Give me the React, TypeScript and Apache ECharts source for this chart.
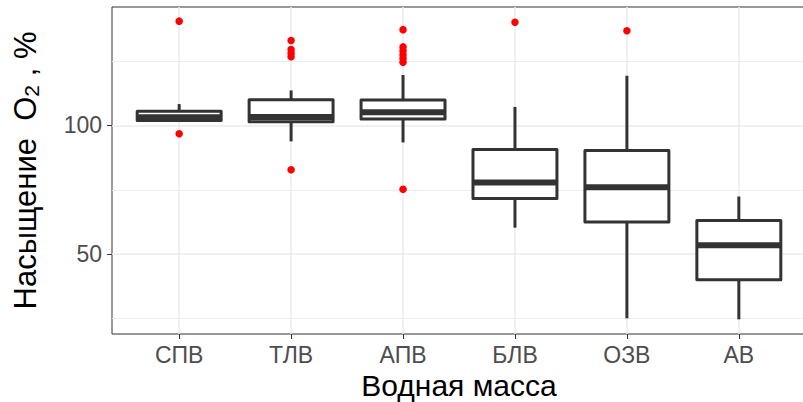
import React, { useEffect, useRef } from "react";
import * as echarts from "echarts";

const categories = ["СПВ", "ТЛВ", "АПВ", "БЛВ", "ОЗВ", "АВ"];
const lowWhisker = [101.9, 93.8, 93.4, 60.3, 25.1, 24.7];
const q1 = [101.9, 101.4, 102.5, 71.6, 62.5, 40.1];
const median = [103.2, 103.3, 105.1, 77.8, 76.0, 53.5];
const q3 = [105.5, 110.0, 109.9, 90.7, 90.3, 63.1];
const highWhisker = [108.3, 113.6, 119.6, 107.2, 119.3, 72.4];

// outliers: [category index (1-based), value]
const outliers: [number, number][] = [
  [1, 140.5], [1, 96.8],
  [2, 133.0], [2, 129.5], [2, 128.0], [2, 126.7], [2, 82.8],
  [3, 137.2], [3, 130.5], [3, 129.0], [3, 127.5], [3, 126.0], [3, 124.5], [3, 75.2],
  [4, 140.1],
  [5, 136.8],
];

const yMajor = [50, 100];
const yMinor = [25, 75, 125];

const FONT = "'Liberation Sans', Arial, sans-serif";

export default function App() {
  const ref = useRef<HTMLDivElement>(null);
  useEffect(() => {
    document.body.style.margin = "0";
    const chart = echarts.init(ref.current!, undefined, { renderer: "svg" });
    const xs = categories.map((_, i) => i + 1);
    const boxData = categories.map((_, i) => [
      i + 1, lowWhisker[i], q1[i], median[i], q3[i], highWhisker[i],
    ]);
    const gridMarks: any[] = [];
    yMinor.forEach((v) =>
      gridMarks.push({ yAxis: v, lineStyle: { color: "#EBEBEB", width: 0.9, type: "solid" } })
    );
    yMajor.forEach((v) =>
      gridMarks.push({ yAxis: v, lineStyle: { color: "#EBEBEB", width: 1.5, type: "solid" } })
    );
    xs.forEach((v) =>
      gridMarks.push({ xAxis: v, lineStyle: { color: "#EBEBEB", width: 1.5, type: "solid" } })
    );
    const stroke = "#333333";
    const LW = 3;
    chart.setOption({
      animation: false,
      backgroundColor: "#ffffff",
      grid: {
        left: 112,
        top: 7,
        width: 694,
        height: 327,
        show: true,
        borderColor: "#333333",
        borderWidth: 1,
        backgroundColor: "transparent",
        outerBoundsMode: "none",
        containLabel: false,
      },
      xAxis: {
        type: "value",
        min: 0.4,
        max: 6.6,
        name: "Водная масса",
        nameLocation: "middle",
        nameGap: 35,
        nameTextStyle: { color: "#000", fontSize: 30, fontFamily: FONT },
        axisLine: { show: false },
        axisTick: { show: true, length: 5, customValues: xs, lineStyle: { color: stroke, width: 1 } },
        axisLabel: {
          customValues: xs,
          formatter: (v: number) => categories[Math.round(v) - 1] ?? "",
          color: "#4D4D4D",
          fontSize: 23,
          fontFamily: FONT,
          margin: 9,
        },
        splitLine: { show: false },
      },
      yAxis: {
        type: "value",
        min: 19,
        max: 146,
        name: "Насыщение  O{sub|2} , %",
        nameLocation: "middle",
        nameGap: 70,
        nameTextStyle: {
          color: "#000",
          fontSize: 31,
          fontFamily: FONT,
          rich: {
            sub: { fontSize: 21, fontFamily: FONT, color: "#000", verticalAlign: "bottom", padding: [12, 0, 0, 0] },
          },
        },
        axisLine: { show: false },
        axisTick: { show: true, length: 5, customValues: yMajor, lineStyle: { color: stroke, width: 1 } },
        axisLabel: {
          customValues: yMajor,
          color: "#4D4D4D",
          fontSize: 23,
          fontFamily: FONT,
          margin: 10,
        },
        splitLine: { show: false },
      },
      series: [
        {
          type: "line",
          data: [],
          silent: true,
          z: 1,
          markLine: {
            silent: true,
            z: 1,
            symbol: ["none", "none"],
            label: { show: false },
            animation: false,
            data: gridMarks,
          },
        },
        {
          type: "custom",
          data: boxData,
          encode: { x: 0, y: [1, 2, 3, 4, 5] },
          z: 10,
          renderItem: (params: any, api: any) => {
            const x = api.value(0);
            const lo = api.coord([x, api.value(1)]);
            const a = api.coord([x, api.value(2)]);
            const md = api.coord([x, api.value(3)]);
            const b = api.coord([x, api.value(4)]);
            const hi = api.coord([x, api.value(5)]);
            const hw = api.size([0.75, 0])[0] / 2;
            const ls = { stroke, lineWidth: LW, lineCap: "butt" };
            return {
              type: "group",
              children: [
                { type: "line", shape: { x1: lo[0], y1: lo[1], x2: a[0], y2: a[1] }, style: ls },
                { type: "line", shape: { x1: b[0], y1: b[1], x2: hi[0], y2: hi[1] }, style: ls },
                {
                  type: "rect",
                  shape: { x: b[0] - hw, y: b[1], width: 2 * hw, height: a[1] - b[1] },
                  style: { fill: "#ffffff", stroke, lineWidth: LW, lineJoin: "round" },
                },
                {
                  type: "line",
                  shape: { x1: md[0] - hw, y1: md[1], x2: md[0] + hw, y2: md[1] },
                  style: { stroke, lineWidth: 6, lineCap: "butt" },
                },
              ],
            };
          },
        },
        {
          type: "scatter",
          data: outliers,
          symbolSize: 7.5,
          z: 11,
          itemStyle: { color: "#FF0000", opacity: 1 },
        },
      ],
    });
    return () => chart.dispose();
  }, []);
  return (
    <div
      ref={ref}
      style={{ position: "fixed", left: 0, top: 0, width: 803, height: 402 }}
    />
  );
}
